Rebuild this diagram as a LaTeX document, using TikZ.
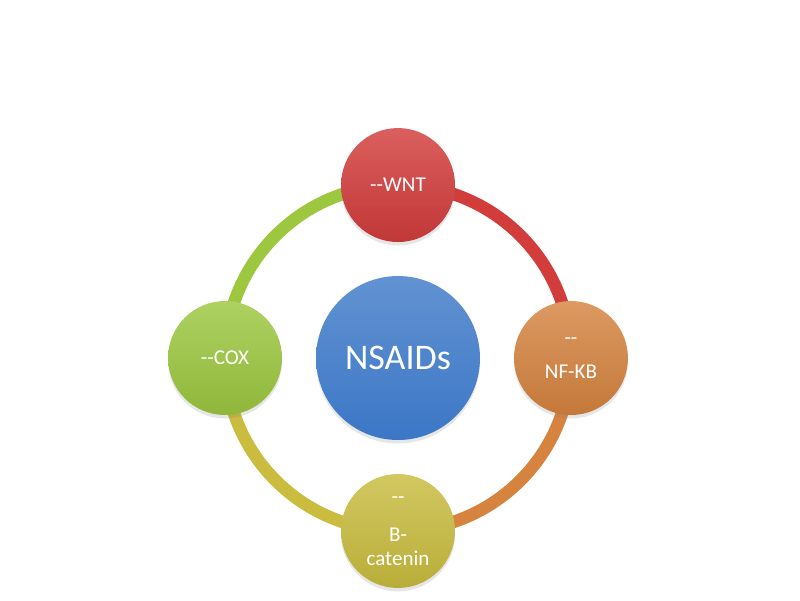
\documentclass[tikz,border=0pt]{standalone}
\usepackage{fontspec}
\setsansfont{Carlito}[Ligatures=TeXOff]
\usetikzlibrary{positioning,backgrounds,shadows}
\definecolor{wntred}{HTML}{D23C3B}
\definecolor{kborange}{HTML}{D5833F}
\definecolor{bcyellow}{HTML}{C9BC3E}
\definecolor{coxgreen}{HTML}{9CC73F}
\definecolor{hubblue}{HTML}{3B77C6}
\begin{document}
\begin{tikzpicture}[x=0.02cm, y=0.02cm, node distance=3.46cm, auto,
	ball/.style={circle, minimum size=2.28cm, inner sep=0pt, align=center, text=white,
		font=\sffamily\fontsize{12}{13.5}\selectfont,
		drop shadow={opacity=0.2, shadow xshift=0pt, shadow yshift=-2pt}},
	ring/.style={line width=0.25cm}]
	
	\useasboundingbox (0,0) rectangle (800,-600);
	
	\node[ball, minimum size=3.28cm, font=\sffamily\fontsize{20.5}{24}\selectfont,
		top color=hubblue!80!white, bottom color=hubblue] (N) at (398,-358) {NSAIDs};
	\node[ball, top color=wntred!82!white, bottom color=wntred!92!black] (W) [above of=N] {--WNT};
	\node[ball, top color=kborange!82!white, bottom color=kborange!92!black] (K) [right of=N] {--\\[6pt]NF-KB};
	\node[ball, top color=bcyellow!82!white, bottom color=bcyellow!92!black] (B) [below of=N] {--\\[8pt]B-\\catenin};
	\node[ball, top color=coxgreen!82!white, bottom color=coxgreen!92!black] (C) [left of=N] {--COX};
	
	\begin{scope}[on background layer]
	\draw[ring, wntred] (W.center) to[out=0, in=90] (K.center);
	\draw[ring, kborange] (K.center) to[out=-90, in=0] (B.center);
	\draw[ring, bcyellow] (B.center) to[out=180, in=-90] (C.center);
	\draw[ring, coxgreen] (C.center) to[out=90, in=180] (W.center);
	\end{scope}
	
\end{tikzpicture}
\end{document}
